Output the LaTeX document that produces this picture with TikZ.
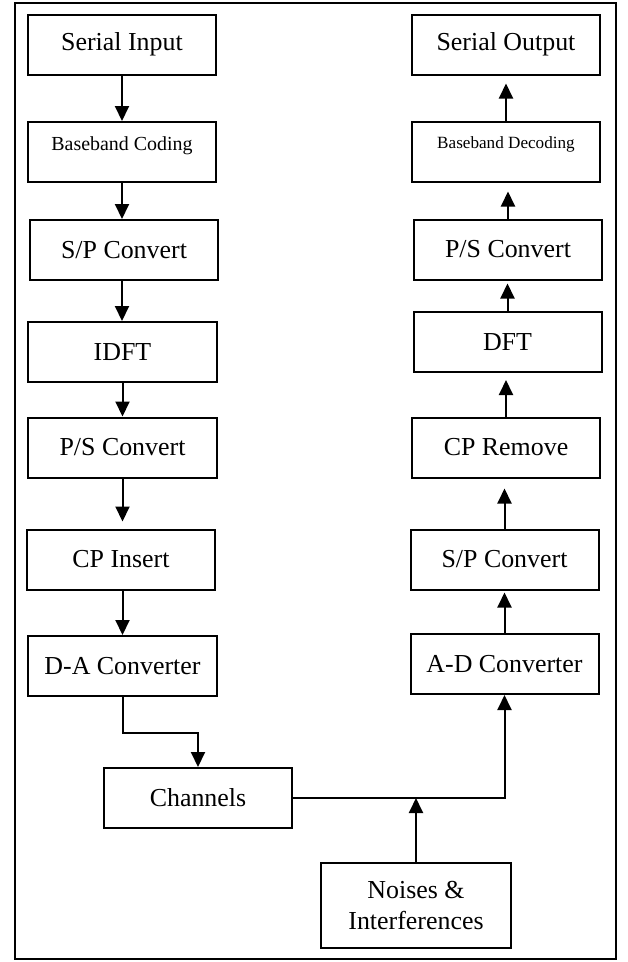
\documentclass[tikz,border=0pt]{standalone}
\usepackage{fontspec}
\setmainfont{Liberation Serif}
\usetikzlibrary{arrows.meta,calc}

\tikzset{
  blk/.style={draw, line width=1bp, minimum width=94bp, minimum height=30bp, inner sep=0pt,
    font=\fontsize{13}{16}\selectfont},
  bbcod/.style={blk, font=\fontsize{10}{12}\selectfont, text height=7bp, text depth=8.5bp},
  bbdec/.style={blk, font=\fontsize{8.6}{10}\selectfont, text height=6bp, text depth=8.8bp},
  flow/.style={line width=1bp, -{Triangle[width=7bp,length=7.5bp]}},
  link/.style={line width=1bp}
}

\begin{document}
\begin{tikzpicture}[x=0.5bp,y=-0.5bp]
  \useasboundingbox (0,0) rectangle (628,962);
  \draw[line width=0.8bp] (15,3) rectangle (616,959);

  % transmitter
  \node[blk]   (sin)  at (122,44.5)  {Serial Input};
  \node[bbcod] (bcod) at (122,152)   {Baseband Coding};
  \node[blk]   (sp)   at (124,250)   {S/P Convert};
  \node[blk]   (idft) at (122.5,352) {IDFT};
  \node[blk]   (ps)   at (122.5,447.5) {P/S Convert};
  \node[blk]   (cpi)  at (121,559.5) {CP Insert};
  \node[blk]   (da)   at (122.5,666) {D-A Converter};

  % channel
  \node[blk] (ch) at (198,798) {Channels};
  \node[blk, minimum width=95bp, minimum height=42.5bp, align=center] (noise) at (416,905.5)
    {Noises \&\\Interferences};

  % receiver
  \node[blk]   (sout) at (506,44.5)  {Serial Output};
  \node[bbdec] (bdec) at (506,151.5) {Baseband Decoding};
  \node[blk]   (ps2)  at (508,249.5) {P/S Convert};
  \node[blk]   (dft)  at (507.5,342) {DFT};
  \node[blk]   (cpr)  at (506,447.5) {CP Remove};
  \node[blk]   (sp2)  at (504.5,559.5) {S/P Convert};
  \node[blk]   (ad)   at (504.5,664) {A-D Converter};

  \draw[flow] (sin.south) -- (bcod.north);
  \draw[flow] (bcod.south) -- (bcod.south |- sp.north);
  \draw[flow] (bcod.south |- sp.south) -- (bcod.south |- idft.north);
  \draw[flow] (idft.south) -- (ps.north);
  \draw[flow, shorten >=3.5bp] (ps.south) -- (ps.south |- cpi.north);
  \draw[flow] (ps.south |- cpi.south) -- (ps.south |- da.north);
  \draw[flow] (da.south) -- ++(0,36) -| (ch.north);

  \coordinate (join) at (noise.north |- ch.east);
  \draw[link] (ch.east) -- (join);
  \draw[flow] (join) -| (ad.south);
  \draw[flow] (noise.north) -- (join);

  \draw[flow, shorten >=1bp] (ad.north) -- (ad.north |- sp2.south);
  \draw[flow, shorten >=5bp] (sp2.north) -- (sp2.north |- cpr.south);
  \draw[flow, shorten >=3.5bp] (cpr.north) -- (cpr.north |- dft.south);
  \draw[flow, shorten >=1.5bp] (dft.north) -- (dft.north |- ps2.south);
  \draw[flow, shorten >=4.5bp] (ps2.north) -- (ps2.north |- bdec.south);
  \draw[flow, shorten >=4bp] (bdec.north) -- (sout.south);
\end{tikzpicture}
\end{document}
